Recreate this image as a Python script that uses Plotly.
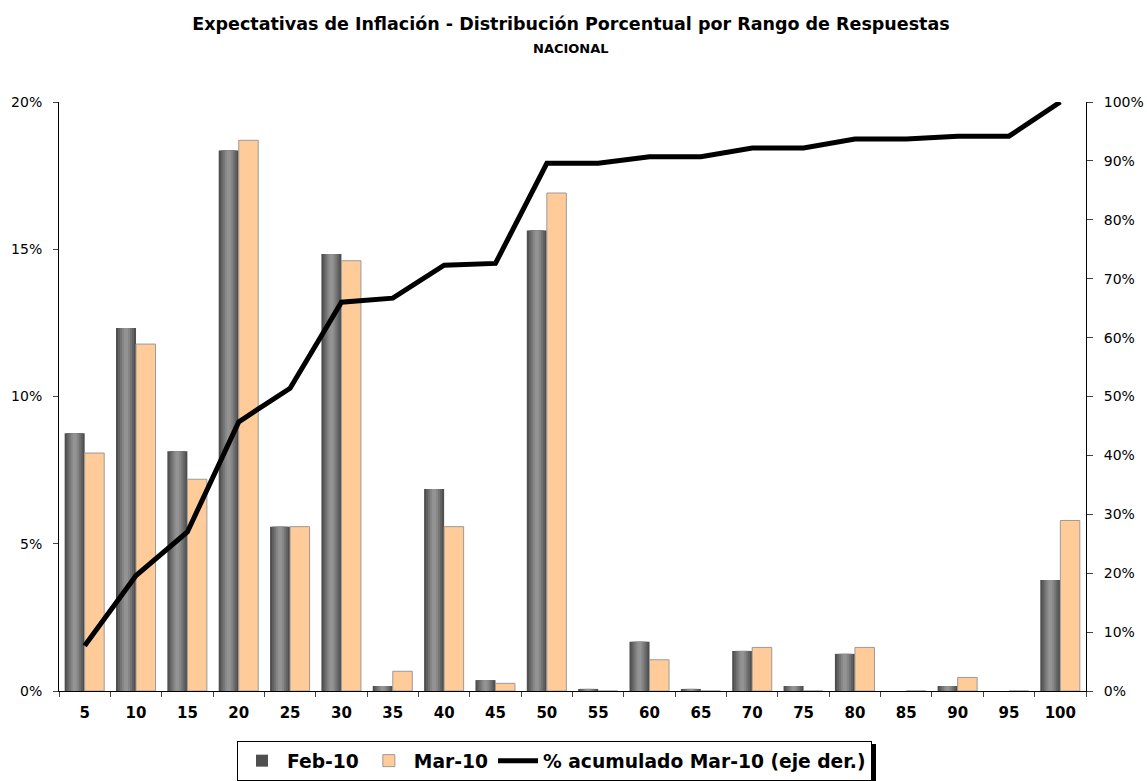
import plotly.graph_objects as go

# Rango de respuestas
rangos = ["5", "10", "15", "20", "25", "30", "35", "40", "45", "50",
          "55", "60", "65", "70", "75", "80", "85", "90", "95", "100"]

# % de respuestas por rango (eje izq.)
feb_10 = [8.75, 12.33, 8.14, 18.35, 5.58, 14.84, 0.17, 6.86, 0.37, 15.64,
          0.07, 1.67, 0.07, 1.36, 0.17, 1.26, 0.0, 0.17, 0.0, 3.77]
mar_10 = [8.08, 11.78, 7.19, 18.70, 5.58, 14.61, 0.67, 5.58, 0.26, 16.91,
          0.0, 1.06, 0.0, 1.48, 0.0, 1.48, 0.0, 0.46, 0.0, 5.79]

# % acumulado Mar-10 (eje der.)
acum_mar_10 = [7.7, 19.6, 27.0, 45.7, 51.4, 66.0, 66.7, 72.3, 72.6, 89.6,
               89.6, 90.7, 90.7, 92.2, 92.2, 93.7, 93.7, 94.2, 94.2, 100.0]

FONT = "DejaVu Sans"
BAR_W = 0.39
W, H = 1147, 781

fig = go.Figure()

# Feb-10: barra con degradado (capas superpuestas cada vez mas angostas y claras)
capas = [(1.0, "#4f4f4f"), (0.8, "#626262"), (0.6, "#747474"),
         (0.4, "#868686"), (0.2, "#939393")]
for i, (frac, color) in enumerate(capas):
    w = BAR_W * frac
    fig.add_trace(go.Bar(
        x=rangos, y=feb_10, name="Feb-10",
        width=w, offset=-BAR_W + (BAR_W - w) / 2,
        marker=dict(color=color, line=dict(width=0)),
        showlegend=(i == 0), legendgroup="feb",
        hoverinfo="skip" if i else None,
    ))

fig.add_trace(go.Bar(
    x=rangos, y=mar_10, name="Mar-10",
    width=BAR_W - 0.01, offset=0,
    marker=dict(color="#FFCC99", line=dict(color="#9a9a9a", width=1)),
))

fig.add_trace(go.Scatter(
    x=rangos, y=acum_mar_10, name="% acumulado Mar-10 (eje der.)",
    mode="lines", line=dict(color="black", width=5), yaxis="y2",
))

# sombra del recuadro de la leyenda (lado derecho)
fig.add_shape(type="line", xref="paper", yref="paper",
              x0=(874 - 59) / 1027, x1=(874 - 59) / 1027,
              y0=(691 - 744) / 589, y1=(691 - 790) / 589,
              line=dict(color="black", width=4))

# subtitulo
fig.add_annotation(text="<b>NACIONAL</b>", xref="paper", yref="paper",
                   x=(571 - 59) / 1027, y=1 + 54 / 589, xanchor="center",
                   yanchor="middle", showarrow=False,
                   font=dict(family=FONT, size=13))

fig.update_layout(
    width=W, height=H,
    margin=dict(l=59, r=61, t=102, b=90, autoexpand=False),
    paper_bgcolor="white", plot_bgcolor="white",
    barmode="overlay",
    font=dict(family=FONT, size=14, color="black"),
    title=dict(
        text="<b>Expectativas de Inflación - Distribución Porcentual por Rango de Respuestas</b>",
        x=571 / W, xanchor="center", y=1 - 24 / H, yanchor="middle",
        font=dict(family=FONT, size=17.5),
    ),
    xaxis=dict(
        type="category", tickson="boundaries", ticks="outside", ticklen=5,
        showline=True, linecolor="black", linewidth=1, showgrid=False,
        tickfont=dict(size=15, family=FONT, weight="bold"),
        ticklabelstandoff=8, automargin=False,
    ),
    yaxis=dict(
        range=[0, 20], dtick=5, ticksuffix="%", ticks="outside", ticklen=5,
        showline=True, linecolor="black", linewidth=1, showgrid=False,
        zeroline=False, ticklabelstandoff=8, automargin=False,
    ),
    yaxis2=dict(
        range=[0, 100], dtick=10, ticksuffix="%", ticks="outside", ticklen=6,
        overlaying="y", side="right",
        showline=True, linecolor="black", linewidth=1, showgrid=False,
        zeroline=False, ticklabelstandoff=8, automargin=False,
    ),
    legend=dict(
        orientation="h", xref="container", yref="container",
        x=872 / W, xanchor="right", y=1 - 741 / H, yanchor="top",
        bordercolor="black", borderwidth=1, bgcolor="white",
        font=dict(family=FONT, size=18.7, weight="bold"),
        itemwidth=40,
    ),
)

fig.write_html(
    "out.html",
    config={"displayModeBar": False},
    post_script="document.body.style.margin='0';document.body.style.overflow='hidden';",
)
